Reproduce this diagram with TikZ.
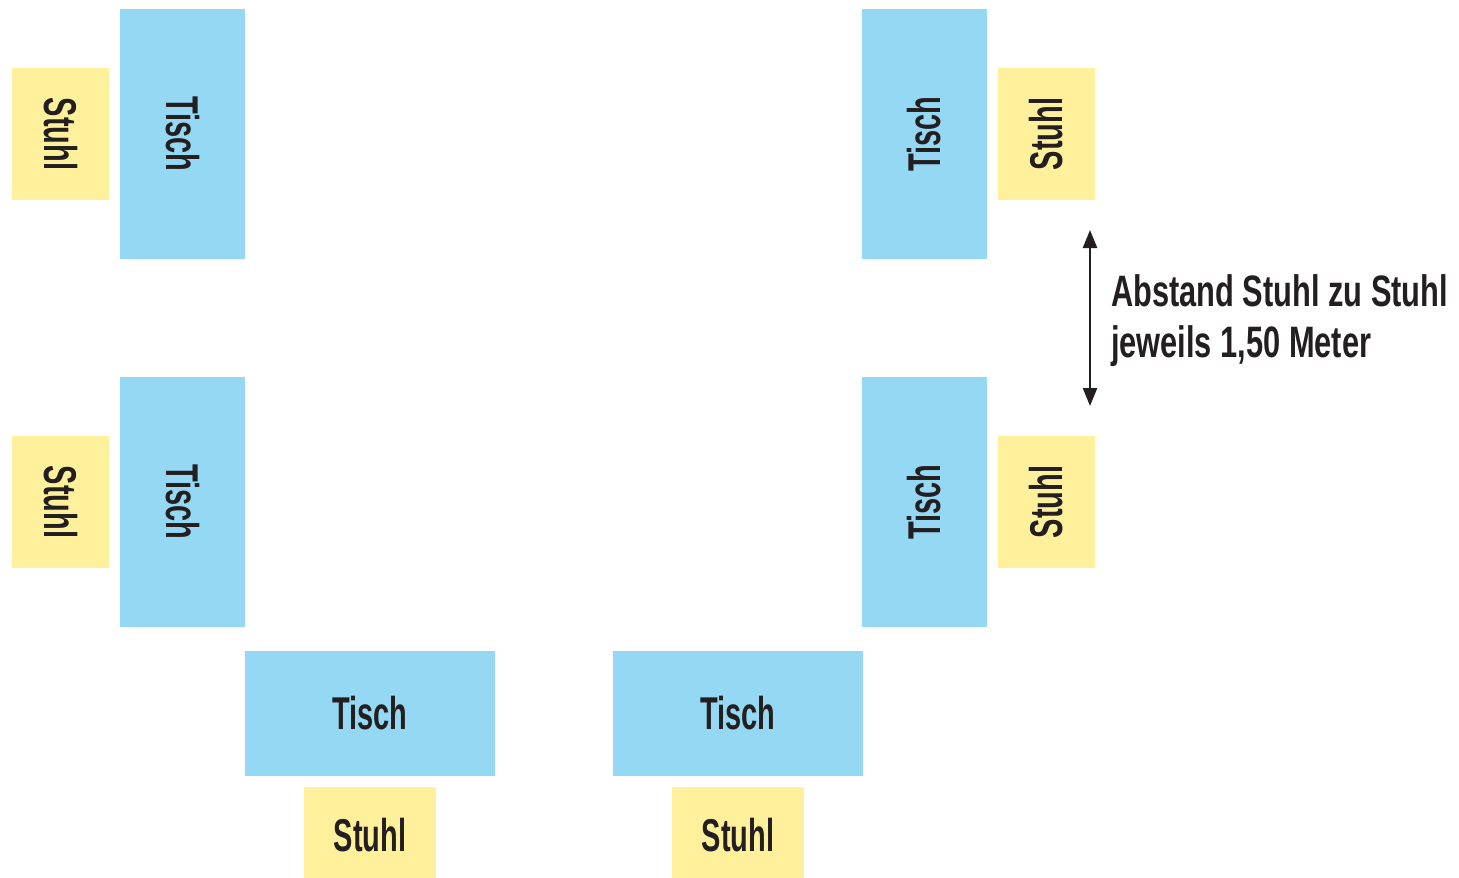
\documentclass[tikz,border=0pt]{standalone}
\usepackage{fontspec}
\setmainfont{Liberation Sans}[FakeStretch=0.63]
\newfontfamily\hinweisfont{Liberation Sans}[FakeStretch=0.7]
\usepackage{graphicx}
\usetikzlibrary{positioning,arrows.meta}
\definecolor{tischblau}{HTML}{94D8F3}
\definecolor{stuhlgelb}{HTML}{FFF09B}
\definecolor{schrift}{HTML}{231F20}

\begin{document}
\begin{tikzpicture}[x=1pt,y=-1pt,
  every node/.style={inner sep=0pt,outer sep=0pt,text=schrift,font=\bfseries\fontsize{46}{50}\selectfont},
  tisch/.style={fill=tischblau},
  stuhl/.style={fill=stuhlgelb},
  hoch/.style={minimum width=125pt,minimum height=250pt},
  quer/.style={minimum width=250pt,minimum height=125pt},
  stuhlhoch/.style={minimum width=97pt,minimum height=132pt},
  stuhlquer/.style={minimum width=132pt,minimum height=97pt},
  abstand/.style={{Triangle[length=18pt,width=14pt]}-{Triangle[length=18pt,width=14pt]},line width=2.5pt,draw=schrift}]
\useasboundingbox (0,0) rectangle (1459,878);

% Tische
\node (tisch1) [tisch,hoch] at (182.5,134) {\rotatebox{-90}{Tisch}};
\node (tisch2) [tisch,hoch,below=118pt of tisch1] {\rotatebox{-90}{Tisch}};
\node (tisch5) [tisch,hoch,right=617pt of tisch1] {\rotatebox{90}{Tisch}};
\node (tisch6) [tisch,hoch,below=118pt of tisch5] {\rotatebox{90}{Tisch}};
\node (tisch3) [tisch,quer] at (370,713.5) {Tisch};
\node (tisch4) [tisch,quer,right=118pt of tisch3] {Tisch};

% Stuehle
\node (stuhl1) [stuhl,stuhlhoch,left=11pt of tisch1] {\rotatebox{-90}{Stuhl}};
\node (stuhl2) [stuhl,stuhlhoch,left=11pt of tisch2] {\rotatebox{-90}{Stuhl}};
\node (stuhl5) [stuhl,stuhlhoch,right=11pt of tisch5] {\rotatebox{90}{Stuhl}};
\node (stuhl6) [stuhl,stuhlhoch,right=11pt of tisch6] {\rotatebox{90}{Stuhl}};
\node (stuhl3) [stuhl,stuhlquer,below=11pt of tisch3] {Stuhl};
\node (stuhl4) [stuhl,stuhlquer,below=11pt of tisch4] {Stuhl};

% Abstand
\coordinate (oben) at ([xshift=-5pt,yshift=-30pt]stuhl5.south east);
\coordinate (unten) at ([xshift=-5pt,yshift=30pt]stuhl6.north east);
\draw[abstand] (oben) -- (unten)
  node (hinweis) [midway,right=21pt,yshift=-3pt,align=left,font=\hinweisfont\bfseries\fontsize{44}{51}\selectfont]
  {Abstand Stuhl zu Stuhl\\jeweils 1,50 Meter};
\end{tikzpicture}
\end{document}
